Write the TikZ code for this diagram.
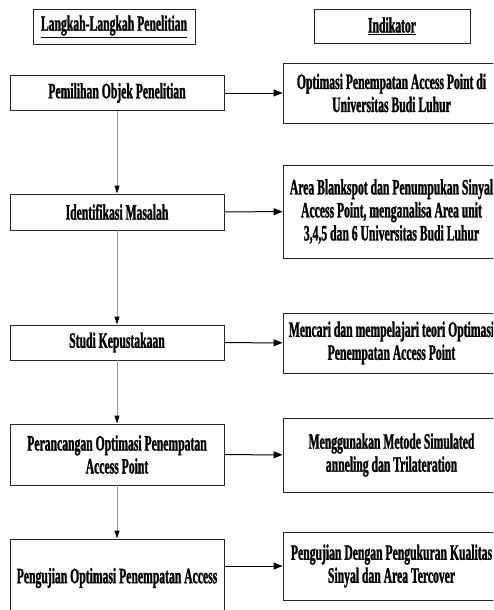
\documentclass[tikz,border=0pt]{standalone}
\usepackage{fontspec}
\setmainfont{Liberation Serif}[FakeStretch=0.53, BoldFont={Liberation Serif Bold}, BoldFeatures={FakeStretch=0.53, FakeBold=1.2}]
\usetikzlibrary{arrows.meta}

\begin{document}
\begin{tikzpicture}[x=1pt,y=-1pt,
	kotak/.style={draw=black!85, line width=0.9pt, rectangle, align=center, inner sep=2pt, font=\fontsize{22}{23}\selectfont\bfseries},
	panah/.style={-{Triangle[length=9pt,width=7pt]}, line width=1pt},
	turun/.style={draw=gray!80, line width=1pt, -{Triangle[length=8pt,width=5pt,color=black]}}]
			\clip (0,0) rectangle (493,610);
			\node[kotak, minimum width=162pt, minimum height=35pt] (hkiri)  at (114, 26.5) {\underline{Langkah-Langkah Penelitian}};
			\node[kotak, minimum width=156pt, minimum height=34pt] (hkanan) at (392, 26)   {\underline{Indikator}};
			
			\node[kotak, minimum width=214pt, minimum height=35pt] (pilih)  at (117, 93)    {Pemilihan Objek Penelitian};
			\node[kotak, minimum width=214pt, minimum height=36pt] (ident)  at (117, 212)   {Identifikasi Masalah};
			\node[kotak, minimum width=214pt, minimum height=35pt] (studi)  at (117, 342.5) {Studi Kepustakaan};
			\node[kotak, minimum width=214pt, minimum height=61pt] (rancang) at (117, 454.5) {Perancangan Optimasi Penempatan\\Access Point};
			\node[kotak, minimum width=214pt, minimum height=78pt] (uji)    at (117, 578)   {Pengujian Optimasi Penempatan Access};
			
			\node[kotak, minimum width=217pt, minimum height=60pt] (ind1) at (391.5, 93)    {Optimasi Penempatan Access Point di\\Universitas Budi Luhur};
			\node[kotak, minimum width=217pt, minimum height=93pt] (ind2) at (391.5, 211.5) {Area Blankspot dan Penumpukan Sinyal\\Access Point, menganalisa Area unit\\3,4,5 dan 6 Universitas Budi Luhur};
			\node[kotak, minimum width=217pt, minimum height=60pt] (ind3) at (391.5, 343)   {Mencari dan mempelajari teori Optimasi\\Penempatan Access Point};
			\node[kotak, minimum width=217pt, minimum height=74pt] (ind4) at (391.5, 455)   {Menggunakan Metode Simulated\\anneling dan Trilateration};
			\node[kotak, minimum width=217pt, minimum height=68pt] (ind5) at (391.5, 566)   {Pengujian Dengan Pengukuran Kualitas\\Sinyal dan Area Tercover};
			
			\path (pilih)   edge[turun] (ident);
			\path (ident)   edge[turun] (studi);
			\path (studi)   edge[turun] (rancang);
			\path (rancang) edge[turun] (uji);
			
			\path (pilih)   edge[panah] (ind1);
			\path (ident)   edge[panah] (ind2);
			\path (studi)   edge[panah] (ind3);
			\path (rancang) edge[panah] (ind4);
			\path (uji.east |- ind5.west) edge[panah] (ind5.west);
			
		\end{tikzpicture}
\end{document}
